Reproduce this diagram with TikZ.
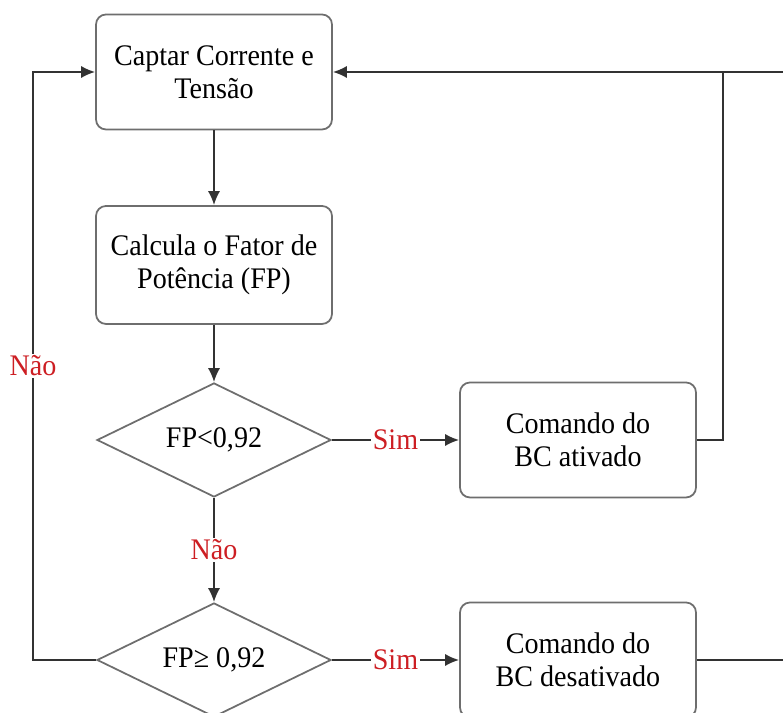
\documentclass[tikz,border=0pt]{standalone}
\usepackage{fontspec}
\setmainfont[FakeStretch=0.94]{Liberation Serif}
\usepackage{xcolor}
\usepackage{tikz}
\usetikzlibrary{shapes.geometric,arrows.meta}

\definecolor{linegray}{RGB}{50,50,50}
\definecolor{boxgray}{RGB}{110,110,110}
\definecolor{labelred}{RGB}{205,30,35}

\tikzset{
    stepbox/.style={draw=boxgray, line width=1pt, rounded corners=0.2cm, fill=white,
        minimum width=4.72cm, minimum height=2.3cm, align=center,
        font=\fontsize{17}{18.8}\selectfont},
    testbox/.style={draw=boxgray, line width=1pt, diamond, aspect=2, inner sep=0pt,
        minimum width=4.68cm, minimum height=2.28cm,
        font=\fontsize{17}{18.8}\selectfont},
    link/.style={draw=linegray, line width=1.1pt},
    linkarrow/.style={link, -{Latex[length=8pt,width=7pt]}},
    answer/.style={text=labelred, fill=white, inner sep=1pt,
        font=\fontsize{17}{18.8}\selectfont}
}

\begin{document}
\begin{tikzpicture}
        \useasboundingbox (0,0) rectangle (15.66,14.26);

        % boxes
        \node[stepbox] (B1) at ( 4.28, 12.82) {Captar Corrente e\\Tensão};
        \node[stepbox, minimum height=2.36cm] (B2) at ( 4.28,  8.96) {Calcula o Fator de\\Potência (FP)};
        \node[testbox] (D1) at ( 4.28,  5.46) {FP<0,92};
        \node[stepbox] (B3) at (11.56,  5.46) {Comando do\\BC ativado};
        \node[testbox] (D2) at ( 4.28,  1.06) {FP≥ 0,92};
        \node[stepbox] (B4) at (11.56,  1.06) {Comando do\\BC desativado};

        % corner points
        \coordinate (LC) at ( 0.66, 12.82); % left return
        \coordinate (RC) at (14.46, 12.82); % right return
        \coordinate (RE) at (16.20, 12.82); % out of page

        % main flow
        \draw[linkarrow] (B1) -- (B2);
        \draw[linkarrow] (B2) -- (D1);
        \draw[linkarrow] (D1) -- node[answer] {Não} (D2);
        \draw[linkarrow] (D1) -- node[answer] {Sim} (B3);
        \draw[linkarrow] (D2) -- node[answer] {Sim} (B4);

        % return lines
        \draw[linkarrow] (D2.west) -| node[answer, pos=0.75] {Não} (LC) -- (B1.west);
        \draw[linkarrow] (B3.east) -| (RC) -- (B1.east);
        \draw[link] (B4.east) -| (RE) -- (RC);
    \end{tikzpicture}
\end{document}
